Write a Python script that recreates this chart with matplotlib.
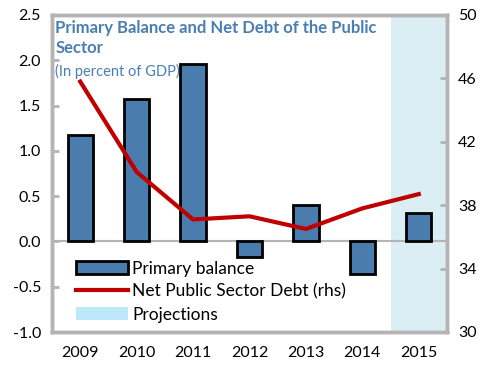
import matplotlib
matplotlib.use("Agg")
import matplotlib.pyplot as plt
import numpy as np
from matplotlib.patches import Patch
from matplotlib.lines import Line2D

years = ["2009", "2010", "2011", "2012", "2013", "2014", "2015"]
primary_balance = [1.18, 1.57, 1.96, -0.17, 0.40, -0.36, 0.31]
net_debt = [45.8, 40.1, 37.1, 37.3, 36.5, 37.8, 38.7]
projection_years = ["2015"]

plt.rcParams["font.family"] = ["Lato", "DejaVu Sans"]

title_blue = "#4A7EB3"
bar_blue = "#4A7DAE"
line_red = "#C00000"
frame_gray = "#B4B4B4"

fig = plt.figure(figsize=(4.87, 3.66), dpi=100)
ax = fig.add_axes([52 / 487, 34 / 366, 395 / 487, 317 / 366])
ax2 = ax.twinx()

x = np.arange(len(years))

# projection shading
for yr in projection_years:
    i = years.index(yr)
    ax.axvspan(i - 0.5, i + 0.5, color="#DAEEF3", zorder=0, lw=0)

ax.axhline(0, color=frame_gray, lw=1.5, zorder=1)
ax.bar(x, primary_balance, width=0.45, color=bar_blue, edgecolor="black",
       linewidth=2, zorder=2)

ax2.plot(x, net_debt, color=line_red, lw=3, zorder=3)

ax.set_xlim(-0.5, len(years) - 0.5)
ax.set_ylim(-1.0, 2.5)
ticks = np.arange(-1.0, 2.51, 0.5)
ax.set_yticks(ticks)
ax.set_yticklabels([f"{v:.1f}" for v in ticks])
ax2.set_ylim(30, 50)
ax2.set_yticks([30, 34, 38, 42, 46, 50])

ax.set_xticks(x)
ax.set_xticklabels(years)

for a in (ax, ax2):
    for s in a.spines.values():
        s.set_color(frame_gray)
        s.set_linewidth(2.5)
    a.tick_params(axis="y", direction="in", length=5, width=2, color=frame_gray,
                  labelsize=11.5, pad=8)
ax.tick_params(axis="x", length=0, labelsize=11.5, pad=10)

ax.text(0.008, 0.985, "Primary Balance and Net Debt of the Public\nSector",
        transform=ax.transAxes, ha="left", va="top", color=title_blue,
        fontsize=12, fontweight="bold", linespacing=1.35)
ax.text(0.008, 0.846, "(In percent of GDP)", transform=ax.transAxes,
        ha="left", va="top", color=title_blue, fontsize=10.5)

handles = [
    Patch(facecolor=bar_blue, edgecolor="black", linewidth=2, label="Primary balance"),
    Line2D([], [], color=line_red, lw=3, label="Net Public Sector Debt (rhs)"),
    Patch(facecolor="#BDE7FA", edgecolor="none", label="Projections"),
]
ax2.legend(handles=handles, loc="upper left", bbox_to_anchor=(0.06, 0.225),
           frameon=False, fontsize=12.5, handlelength=3.0, handleheight=0.8,
           handletextpad=0.25, labelspacing=0.4, borderaxespad=0, borderpad=0)

fig.savefig("out.png", dpi=100)
